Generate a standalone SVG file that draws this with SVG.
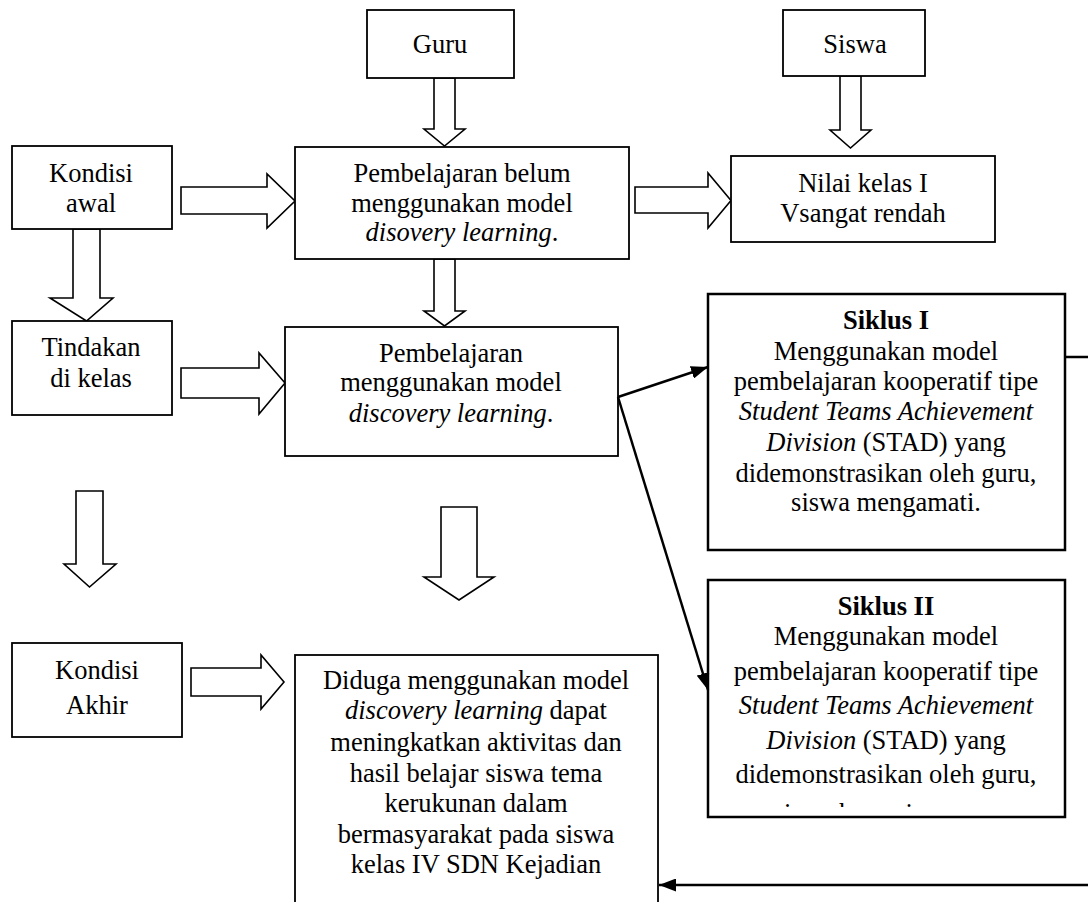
<svg xmlns="http://www.w3.org/2000/svg" width="1088" height="902" viewBox="0 0 1088 902">
<style>
.box{fill:#fff;stroke:#000;stroke-width:1.8}
.bbox{fill:#fff;stroke:#000;stroke-width:2.5}
.ha{fill:#fff;stroke:#000;stroke-width:1.6;stroke-linejoin:miter}
.t{font-family:"Liberation Serif","Times New Roman",serif;font-size:26.5px;fill:#000;text-anchor:middle}
.i{font-style:italic}
.b{font-weight:bold}
.ln{fill:none;stroke:#000;stroke-width:2.5}
</style>
<defs>
<marker id="ah" markerUnits="userSpaceOnUse" markerWidth="17" markerHeight="13" viewBox="0 0 17 13" refX="17" refY="6.5" orient="auto">
<path d="M0,0 L17,6.5 L0,13 z" fill="#000"/>
</marker>
<clipPath id="clip2"><rect x="708" y="580" width="357" height="227"/></clipPath>
</defs>

<g id="hollow-arrows">
<polygon class="ha" points="434,78 455,78 455,129 465,129 444.5,146 424,129 434,129"/>
<polygon class="ha" points="840,76 861,76 861,130 871,130 850.5,148 830,130 840,130"/>
<polygon class="ha" points="73,229 100,229 100,298 113,298 86.5,321 50,298 73,298"/>
<polygon class="ha" points="434,259 455,259 455,311 465,311 444.5,326 424,311 434,311"/>
<polygon class="ha" points="181,187 267,187 267,174 295,201 267,228 267,214 181,214"/>
<polygon class="ha" points="635,187 708,187 708,173 731,200.5 708,228 708,213 635,213"/>
<polygon class="ha" points="181,368 259,368 259,353 285,383 259,414 259,398 181,398"/>
<polygon class="ha" points="76,491 103,491 103,564 116,564 89.5,587 64,564 76,564"/>
<polygon class="ha" points="441,507 477,507 477,577 494,577 459,600 424,577 441,577"/>
<polygon class="ha" points="191,668 261,668 261,655 284,682 261,709 261,696 191,696"/>
</g>

<g id="guru">
<rect class="box" x="367" y="10" width="147" height="68"/>
<text class="t" x="440" y="53">Guru</text>
</g>
<g id="siswa">
<rect class="box" x="783" y="10" width="142" height="66"/>
<text class="t" x="855" y="53">Siswa</text>
</g>
<g id="kondisi-awal">
<rect class="box" x="12" y="146" width="160" height="83"/>
<text class="t" x="91" y="182">Kondisi</text>
<text class="t" x="91" y="212">awal</text>
</g>
<g id="pembelajaran-belum">
<rect class="box" x="295" y="147" width="334" height="112"/>
<text class="t" x="462" y="182">Pembelajaran belum</text>
<text class="t" x="462" y="212">menggunakan model</text>
<text class="t" x="462" y="241"><tspan class="i">disovery learning</tspan>.</text>
</g>
<g id="nilai">
<rect class="box" x="731" y="156" width="264" height="86"/>
<text class="t" x="863" y="192">Nilai kelas I</text>
<text class="t" x="863" y="222">Vsangat rendah</text>
</g>
<g id="tindakan">
<rect class="box" x="12" y="321" width="160" height="94"/>
<text class="t" x="91" y="356">Tindakan</text>
<text class="t" x="91" y="387">di kelas</text>
</g>
<g id="pembelajaran">
<rect class="box" x="285" y="327" width="333" height="129"/>
<text class="t" x="451" y="362">Pembelajaran</text>
<text class="t" x="451" y="391">menggunakan model</text>
<text class="t" x="451" y="422"><tspan class="i">discovery learning</tspan>.</text>
</g>
<g id="siklus-1">
<rect class="bbox" x="708" y="294" width="357" height="256"/>
<text class="t b" x="886" y="329">Siklus I</text>
<text class="t" x="886" y="360">Menggunakan model</text>
<text class="t" x="886" y="390">pembelajaran kooperatif tipe</text>
<text class="t i" x="886" y="420">Student Teams Achievement</text>
<text class="t" x="886" y="451"><tspan class="i">Division</tspan> (STAD) yang</text>
<text class="t" x="886" y="482">didemonstrasikan oleh guru,</text>
<text class="t" x="886" y="511">siswa mengamati.</text>
</g>
<g id="siklus-2">
<rect class="bbox" x="708" y="580" width="357" height="237"/>
<text class="t b" x="886" y="615">Siklus II</text>
<text class="t" x="886" y="645">Menggunakan model</text>
<text class="t" x="886" y="680">pembelajaran kooperatif tipe</text>
<text class="t i" x="886" y="714">Student Teams Achievement</text>
<text class="t" x="886" y="749"><tspan class="i">Division</tspan> (STAD) yang</text>
<text class="t" x="886" y="783">didemonstrasikan oleh guru,</text>
<text class="t" x="886" y="822" clip-path="url(#clip2)">siswa bermain peran.</text>
</g>
<g id="kondisi-akhir">
<rect class="box" x="12" y="643" width="170" height="94"/>
<text class="t" x="97" y="679">Kondisi</text>
<text class="t" x="97" y="714">Akhir</text>
</g>
<g id="hipotesis">
<rect class="box" x="295" y="655" width="363" height="260"/>
<text class="t" x="476" y="689">Diduga menggunakan model</text>
<text class="t" x="476" y="719"><tspan class="i">discovery learning</tspan> dapat</text>
<text class="t" x="476" y="751">meningkatkan aktivitas dan</text>
<text class="t" x="476" y="782">hasil belajar siswa tema</text>
<text class="t" x="476" y="812">kerukunan dalam</text>
<text class="t" x="476" y="843">bermasyarakat pada siswa</text>
<text class="t" x="476" y="873">kelas IV SDN Kejadian</text>
</g>

<g id="connectors">
<line class="ln" x1="618" y1="397" x2="708" y2="367" marker-end="url(#ah)"/>
<line class="ln" x1="618" y1="397" x2="708" y2="690" marker-end="url(#ah)"/>
<line class="ln" x1="1065" y1="357" x2="1088" y2="357"/>
<line class="ln" x1="1088" y1="885" x2="659" y2="885" marker-end="url(#ah)"/>
</g>
</svg>
